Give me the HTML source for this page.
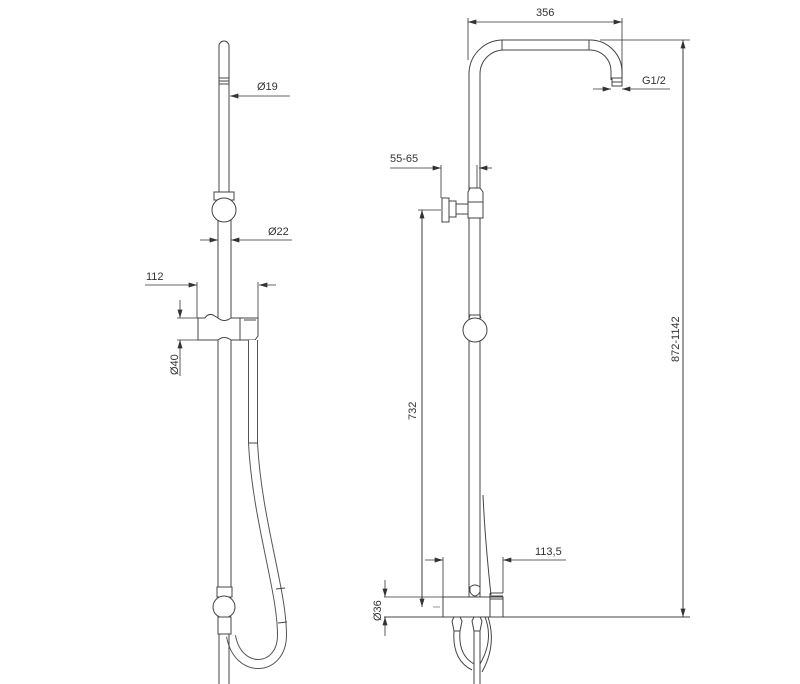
<!DOCTYPE html>
<html><head><meta charset="utf-8"><style>
html,body{margin:0;padding:0;background:#fff;}
svg{display:block;font-family:"Liberation Sans",sans-serif;}
text{font-size:11px;fill:#333;}
</style></head><body>
<svg width="800" height="684" viewBox="0 0 800 684">
<defs>
<marker id="a" viewBox="0 0 10 6" refX="10" refY="3" markerWidth="9" markerHeight="5" orient="auto" markerUnits="userSpaceOnUse"><path d="M0,0 L10,3 L0,6 z" fill="#333"/></marker>
</defs>
<g fill="none" stroke="#444" stroke-width="1">
<path d="M219,192 L219,46 A5,5 0 0 1 229,46 L229,192" fill="#fff"/>
<line x1="219" y1="78" x2="229" y2="78"/><line x1="219" y1="81" x2="229" y2="81"/><line x1="219" y1="84" x2="229" y2="84"/>
<rect x="214" y="192" width="20" height="8" fill="#fff"/>
<circle cx="224" cy="210" r="12" fill="#fff"/>
<line x1="218" y1="220" x2="218" y2="318"/><line x1="231" y1="220" x2="231" y2="318"/>
<line x1="218" y1="340" x2="218" y2="587"/><line x1="231" y1="340" x2="231" y2="587"/>
<path d="M198,318 L205,318 Q208,313 213,315 L218,318 Q224,323 231,318 L240,318 L240,340 L231,340 Q224,335 218,340 L198,340 Z" fill="#fff"/>
<path d="M240,318 L258,318 L258,336 L255,340 L240,340"/>
<line x1="244" y1="320" x2="256" y2="320"/>
<path d="M253,340 L253,443 C257,520 282,590 282,635 C282,672 238,675 231,636" stroke="#555" stroke-width="10"/>
<path d="M253,340 L253,443 C257,520 282,590 282,635 C282,672 238,675 231,636" stroke="#fff" stroke-width="8"/>
<line x1="249" y1="443" x2="258" y2="443"/>
<line x1="276" y1="589" x2="285" y2="588"/>
<line x1="278" y1="623" x2="287" y2="622"/>
<rect x="217" y="587" width="15" height="10" fill="#fff"/>
<circle cx="224" cy="607" r="11" fill="#fff"/>
<rect x="218" y="617" width="13" height="17" fill="#fff"/>
<line x1="219" y1="634" x2="219" y2="684"/><line x1="229" y1="634" x2="229" y2="684"/>
</g>
<g fill="none" stroke="#333" stroke-width="0.8">
<line x1="290" y1="96" x2="230" y2="96" marker-end="url(#a)"/>
<line x1="200" y1="240" x2="218" y2="240" marker-end="url(#a)"/>
<line x1="292" y1="240" x2="231" y2="240" marker-end="url(#a)"/>
<line x1="145" y1="285" x2="197" y2="285" marker-end="url(#a)"/>
<line x1="276" y1="285" x2="259" y2="285" marker-end="url(#a)"/>
<line x1="197" y1="282" x2="197" y2="318"/><line x1="258" y1="282" x2="258" y2="318"/>
<line x1="180" y1="300" x2="180" y2="318" marker-end="url(#a)"/>
<line x1="180" y1="376" x2="180" y2="340" marker-end="url(#a)"/>
<line x1="177" y1="318" x2="198" y2="318"/><line x1="177" y1="340" x2="198" y2="340"/>
</g>
<text x="257" y="90">Ø19</text>
<text x="268" y="235">Ø22</text>
<text x="146" y="280">112</text>
<text transform="translate(178,375) rotate(-90)">Ø40</text>

<g fill="none" stroke="#444" stroke-width="1">
<path d="M469,597 L469,74 A34,34 0 0 1 503,40 L590,40 A32,32 0 0 1 622,72 L622,80"/>
<path d="M480,597 L480,74 A24,24 0 0 1 504,50 L590,50 A21,21 0 0 1 611,71 L611,80"/>
<line x1="502" y1="40" x2="502" y2="50"/><line x1="589" y1="40" x2="589" y2="50"/>
<rect x="612" y="78" width="10" height="8" fill="#fff"/><line x1="612" y1="82" x2="622" y2="82"/>
<path d="M468,192 L470,188 L480,188 L483,192 L483,218 L468,218 Z" fill="#fff"/>
<line x1="468" y1="202" x2="483" y2="202"/>
<rect x="456" y="204" width="12" height="10" fill="#fff"/>
<rect x="449" y="201" width="7" height="16" fill="#fff"/>
<rect x="442" y="198" width="7" height="24" fill="#fff"/>
<circle cx="475" cy="330" r="12" fill="#fff"/>
<path d="M469,318 L470,315 L480,315 L481,318"/>
<path d="M483,495 Q485,540 491,595"/>
<path d="M470,587 L470,592 Q475,600 480,592 L480,587 Q475,583 470,587 Z" fill="#fff"/>
<rect x="443" y="597" width="60" height="20" fill="#fff"/>
<line x1="490" y1="593" x2="490" y2="617"/><line x1="503" y1="593" x2="490" y2="593"/>
<line x1="490" y1="596" x2="503" y2="596"/><line x1="490" y1="599" x2="503" y2="599"/>
<line x1="384" y1="617" x2="690" y2="617"/>
<line x1="433" y1="607" x2="440" y2="607" stroke="#999"/>
<path d="M452,621 L454,617 L460,617 L462,621 L460,631 L454,631 Z" fill="#fff"/>
<path d="M472,621 L474,617 L480,617 L482,621 L480,631 L474,631 Z" fill="#fff"/>
<path d="M454,631 Q452,660 472,670 M460,631 Q458,655 474,664"/>
<path d="M474,631 L474,684 M480,631 L480,684"/>
<path d="M485,617 Q494,640 480,664 M488,617 Q497,645 482,672"/>
</g>
<g fill="none" stroke="#333" stroke-width="0.8">
<line x1="468" y1="18" x2="468" y2="60"/><line x1="622" y1="18" x2="622" y2="78"/>
<line x1="490" y1="22" x2="468" y2="22" marker-end="url(#a)"/>
<line x1="600" y1="22" x2="622" y2="22" marker-end="url(#a)"/>
<line x1="490" y1="22" x2="600" y2="22"/>
<line x1="593" y1="89" x2="611" y2="89" marker-end="url(#a)"/>
<line x1="670" y1="89" x2="622" y2="89" marker-end="url(#a)"/>
<line x1="600" y1="40" x2="690" y2="40"/>
<line x1="683" y1="617" x2="683" y2="40" marker-end="url(#a)"/>
<line x1="683" y1="40" x2="683" y2="617" marker-end="url(#a)"/>
<line x1="390" y1="168" x2="441" y2="168" marker-end="url(#a)"/>
<line x1="492" y1="168" x2="479" y2="168" marker-end="url(#a)"/>
<line x1="441" y1="165" x2="441" y2="198"/><line x1="477" y1="165" x2="477" y2="188"/>
<line x1="418" y1="210" x2="441" y2="210"/>
<line x1="422" y1="607" x2="422" y2="210" marker-end="url(#a)"/>
<line x1="422" y1="210" x2="422" y2="607" marker-end="url(#a)"/>
<line x1="443" y1="557" x2="443" y2="597"/><line x1="503" y1="557" x2="503" y2="593"/>
<line x1="425" y1="560" x2="443" y2="560" marker-end="url(#a)"/>
<line x1="566" y1="560" x2="503" y2="560" marker-end="url(#a)"/>
<line x1="384" y1="597" x2="443" y2="597"/>
<line x1="385" y1="580" x2="385" y2="597" marker-end="url(#a)"/>
<line x1="385" y1="636" x2="385" y2="617" marker-end="url(#a)"/>
</g>
<text x="536" y="16">356</text>
<text x="642" y="84">G1/2</text>
<text x="390" y="162">55-65</text>
<text x="535" y="555">113,5</text>
<text transform="translate(416,420) rotate(-90)">732</text>
<text transform="translate(679,362) rotate(-90)">872-1142</text>
<text transform="translate(381,621) rotate(-90)">Ø36</text>
</svg>
</body></html>
